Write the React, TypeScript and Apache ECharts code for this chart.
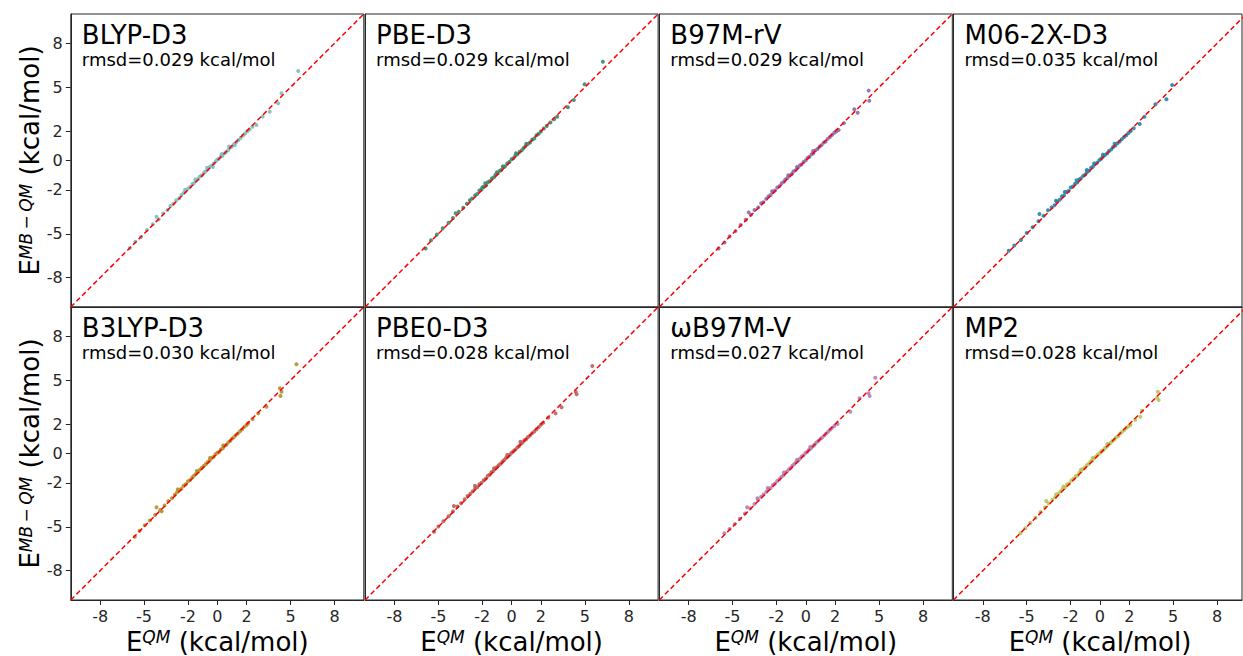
import React, { useEffect, useRef } from 'react';
import * as echarts from 'echarts';

const methods = ['BLYP-D3', 'PBE-D3', 'B97M-rV', 'M06-2X-D3', 'B3LYP-D3', 'PBE0-D3', 'ωB97M-V', 'MP2'];
const rmsdValues = ['0.029', '0.029', '0.029', '0.035', '0.030', '0.028', '0.027', '0.028'];
const pointColors = ['#7dbdbf', '#3a8a6c', '#8a6cae', '#2185ad', '#b3902f', '#b5625c', '#b07fb5', '#b8c45a'];
const tickValues = [-8, -5, -2, 0, 2, 5, 8];

const blypD3: number[][] = [
  [-5.97, -5.97], [-5.6, -5.55], [-5.2, -5.22], [-4.8, -4.75], [-4.15, -3.84], [-4.4, -4.35], [-4.0, -4.02], [-3.7, -3.62],
  [-3.4, -3.38], [-3.2, -3.1], [-3.0, -2.95], [-2.8, -2.72], [-2.6, -2.58], [-2.45, -2.35], [-2.3, -2.22], [-2.15, -2.1],
  [-2.0, -1.92], [-1.85, -1.8], [-1.7, -1.6], [-1.6, -1.55], [-1.45, -1.38], [-1.3, -1.25], [-1.2, -1.1], [-1.05, -1.0],
  [-0.9, -0.82], [-0.8, -0.75], [-0.65, -0.6], [-0.5, -0.42], [-0.4, -0.38], [-0.25, -0.2], [-0.1, -0.05], [0.0, 0.06],
  [0.1, 0.12], [0.25, 0.28], [0.35, 0.33], [0.5, 0.5], [0.6, 0.58], [0.75, 0.72], [0.9, 0.88], [1.0, 0.95],
  [1.15, 1.12], [1.3, 1.25], [1.45, 1.4], [1.6, 1.55], [1.75, 1.7], [1.9, 1.84], [2.05, 2.0], [2.2, 2.12],
  [2.4, 2.3], [2.67, 2.42], [3.1, 3.0], [3.58, 3.33], [4.15, 3.9], [4.38, 4.59], [5.52, 6.11],
  [-1.5, -1.3], [-0.7, -0.5], [0.3, 0.45], [-2.2, -2.0], [1.2, 1.05], [0.8, 0.95], [-0.3, -0.45],
];
const pbeD3: number[][] = [
  [-5.87, -6.0], [-5.5, -5.45], [-5.1, -5.05], [-4.7, -4.62], [-4.3, -4.25], [-3.82, -3.6], [-4.0, -3.92], [-3.6, -3.5],
  [-3.3, -3.22], [-3.05, -2.95], [-2.85, -2.72], [-2.7, -2.6], [-2.5, -2.38], [-2.35, -2.28], [-2.2, -2.05], [-2.05, -1.98],
  [-1.9, -1.78], [-1.75, -1.7], [-1.62, -1.48], [-1.5, -1.42], [-1.35, -1.22], [-1.2, -1.15], [-1.1, -0.98], [-0.95, -0.88],
  [-0.8, -0.7], [-0.7, -0.65], [-0.55, -0.45], [-0.45, -0.4], [-0.3, -0.2], [-0.15, -0.1], [0.0, 0.08], [0.12, 0.15],
  [0.25, 0.32], [0.4, 0.42], [0.55, 0.6], [0.7, 0.7], [0.82, 0.85], [0.95, 0.98], [1.1, 1.12], [1.25, 1.22],
  [1.4, 1.42], [1.55, 1.5], [1.7, 1.72], [1.85, 1.82], [2.0, 1.98], [2.2, 2.18], [2.4, 2.36], [2.65, 2.6],
  [2.9, 2.82], [3.11, 2.99], [3.84, 3.63], [4.25, 4.13], [4.98, 5.2], [6.23, 6.74],
  [-1.0, -0.8], [-2.0, -1.85], [0.3, 0.5], [-0.6, -0.4], [1.0, 1.15], [-1.8, -1.55],
];
const b97mrV: number[][] = [
  [-5.95, -6.0], [-5.55, -5.6], [-5.2, -5.18], [-4.8, -4.82], [-4.45, -4.4], [-3.9, -3.54], [-4.1, -4.05], [-3.75, -3.7],
  [-3.5, -3.38], [-3.25, -3.2], [-3.05, -2.92], [-2.9, -2.85], [-2.7, -2.62], [-2.55, -2.45], [-2.4, -2.35], [-2.25, -2.15],
  [-2.1, -2.05], [-1.95, -1.85], [-1.8, -1.75], [-1.65, -1.55], [-1.5, -1.45], [-1.4, -1.3], [-1.25, -1.2], [-1.1, -1.02],
  [-0.95, -0.92], [-0.85, -0.75], [-0.7, -0.66], [-0.55, -0.5], [-0.42, -0.35], [-0.3, -0.28], [-0.15, -0.1], [0.0, 0.02],
  [0.12, 0.18], [0.25, 0.25], [0.4, 0.42], [0.52, 0.5], [0.65, 0.68], [0.8, 0.78], [0.95, 0.95], [1.08, 1.05],
  [1.22, 1.22], [1.35, 1.3], [1.5, 1.48], [1.65, 1.6], [1.8, 1.75], [1.95, 1.9], [2.1, 2.0], [2.24, 2.08],
  [2.6, 2.55], [3.31, 3.5], [3.54, 3.26], [4.29, 4.77], [4.33, 4.08],
  [-1.2, -1.0], [-2.3, -2.1], [0.5, 0.65], [-0.6, -0.45],
];
const m062xD3: number[][] = [
  [-6.23, -6.16], [-5.85, -5.8], [-5.4, -5.42], [-5.0, -4.95], [-4.6, -4.55], [-4.13, -3.65], [-4.2, -4.15], [-3.85, -3.78],
  [-3.55, -3.4], [-3.3, -3.2], [-3.1, -3.05], [-2.95, -2.8], [-2.75, -2.68], [-2.6, -2.45], [-2.45, -2.38], [-2.3, -2.15],
  [-2.15, -2.08], [-2.0, -1.85], [-1.85, -1.78], [-1.7, -1.58], [-1.55, -1.5], [-1.42, -1.3], [-1.3, -1.22], [-1.15, -1.05],
  [-1.0, -0.95], [-0.88, -0.78], [-0.75, -0.7], [-0.6, -0.5], [-0.48, -0.42], [-0.35, -0.25], [-0.2, -0.15], [-0.05, 0.02],
  [0.08, 0.12], [0.2, 0.26], [0.35, 0.38], [0.5, 0.5], [0.62, 0.65], [0.78, 0.76], [0.9, 0.92], [1.05, 1.02],
  [1.2, 1.18], [1.35, 1.3], [1.5, 1.46], [1.65, 1.6], [1.8, 1.72], [1.95, 1.88], [2.1, 2.02], [2.31, 2.2],
  [2.72, 2.49], [3.04, 2.99], [3.79, 3.84], [4.54, 4.18], [4.93, 5.15],
  [-1.6, -1.35], [-2.4, -2.15], [-0.9, -0.65], [0.2, 0.4], [-3.0, -2.75], [1.0, 1.15], [-0.4, -0.2],
];
const b3lypD3: number[][] = [
  [-5.63, -5.68], [-5.3, -5.28], [-4.95, -4.9], [-4.6, -4.58], [-4.15, -3.67], [-4.25, -4.2], [-3.9, -3.85], [-3.6, -3.55],
  [-3.35, -3.25], [-3.1, -3.05], [-2.9, -2.82], [-2.75, -2.65], [-2.6, -2.5], [-2.45, -2.4], [-2.3, -2.2], [-2.15, -2.1],
  [-2.0, -1.9], [-1.85, -1.8], [-1.7, -1.62], [-1.58, -1.5], [-1.45, -1.38], [-1.3, -1.25], [-1.18, -1.1], [-1.05, -0.98],
  [-0.92, -0.85], [-0.78, -0.72], [-0.65, -0.58], [-0.52, -0.48], [-0.4, -0.32], [-0.25, -0.22], [-0.12, -0.05], [0.0, 0.05],
  [0.12, 0.1], [0.25, 0.28], [0.38, 0.36], [0.5, 0.52], [0.62, 0.6], [0.75, 0.76], [0.88, 0.85], [1.0, 1.0],
  [1.12, 1.1], [1.25, 1.25], [1.4, 1.36], [1.55, 1.52], [1.7, 1.65], [1.85, 1.82], [2.0, 1.95], [2.1, 2.06],
  [2.4, 2.35], [2.79, 2.74], [3.36, 3.19], [4.27, 4.45], [4.38, 4.22], [4.31, 3.92], [5.4, 6.09],
  [-2.7, -2.45], [-1.4, -1.2], [-0.5, -0.3], [0.4, 0.55], [-3.8, -3.95],
];
const pbe0D3: number[][] = [
  [-5.3, -5.34], [-5.0, -4.98], [-4.65, -4.62], [-4.3, -4.28], [-3.94, -3.58], [-4.0, -3.95], [-3.7, -3.62], [-3.45, -3.4],
  [-3.2, -3.12], [-3.0, -2.9], [-2.82, -2.75], [-2.65, -2.58], [-2.5, -2.38], [-2.35, -2.3], [-2.2, -2.1], [-2.05, -2.0],
  [-1.9, -1.82], [-1.75, -1.7], [-1.62, -1.52], [-1.5, -1.45], [-1.38, -1.28], [-1.25, -1.2], [-1.12, -1.05], [-1.0, -0.92],
  [-0.88, -0.8], [-0.75, -0.7], [-0.62, -0.55], [-0.5, -0.45], [-0.38, -0.3], [-0.25, -0.2], [-0.12, -0.08], [0.0, 0.05],
  [0.12, 0.15], [0.25, 0.25], [0.38, 0.4], [0.5, 0.5], [0.62, 0.65], [0.75, 0.75], [0.88, 0.9], [1.0, 0.98],
  [1.12, 1.12], [1.25, 1.22], [1.4, 1.38], [1.55, 1.5], [1.7, 1.66], [1.85, 1.8], [2.0, 1.96], [2.16, 2.1],
  [2.5, 2.45], [3.0, 2.74], [3.41, 3.15], [4.37, 4.22], [4.44, 4.04], [5.51, 5.97],
  [-2.5, -2.2], [-1.2, -1.0], [-0.3, -0.1], [0.6, 0.8],
];
const wb97mV: number[][] = [
  [-5.56, -5.45], [-5.2, -5.15], [-4.85, -4.82], [-4.5, -4.45], [-4.01, -3.67], [-4.15, -4.1], [-3.8, -3.75], [-3.5, -3.45],
  [-3.25, -3.18], [-3.05, -2.95], [-2.88, -2.8], [-2.7, -2.62], [-2.55, -2.45], [-2.4, -2.35], [-2.25, -2.15], [-2.1, -2.05],
  [-1.95, -1.88], [-1.8, -1.75], [-1.66, -1.58], [-1.52, -1.48], [-1.4, -1.32], [-1.28, -1.22], [-1.15, -1.08], [-1.02, -0.98],
  [-0.9, -0.82], [-0.78, -0.72], [-0.65, -0.58], [-0.52, -0.48], [-0.4, -0.35], [-0.28, -0.2], [-0.15, -0.12], [-0.02, 0.04],
  [0.1, 0.12], [0.22, 0.26], [0.35, 0.35], [0.48, 0.5], [0.6, 0.6], [0.72, 0.75], [0.85, 0.85], [0.98, 0.98],
  [1.1, 1.08], [1.25, 1.22], [1.38, 1.35], [1.52, 1.48], [1.66, 1.62], [1.8, 1.75], [1.95, 1.88], [2.17, 2.01],
  [3.04, 2.85], [3.67, 3.77], [4.29, 4.11], [4.36, 3.92], [4.74, 5.17],
  [-2.6, -2.35], [-1.5, -1.3], [-0.6, -0.42], [0.3, 0.45], [-3.3, -3.05],
];
const mp2: number[][] = [
  [-5.43, -5.45], [-5.1, -5.1], [-4.75, -4.72], [-4.4, -4.38], [-3.67, -3.24], [-4.05, -4.0], [-3.75, -3.68], [-3.5, -3.4],
  [-3.25, -3.15], [-3.05, -2.98], [-2.85, -2.75], [-2.7, -2.6], [-2.55, -2.42], [-2.4, -2.32], [-2.25, -2.12], [-2.1, -2.05],
  [-1.95, -1.85], [-1.8, -1.72], [-1.65, -1.55], [-1.52, -1.48], [-1.4, -1.3], [-1.28, -1.2], [-1.15, -1.05], [-1.02, -0.95],
  [-0.9, -0.8], [-0.78, -0.72], [-0.65, -0.55], [-0.52, -0.48], [-0.4, -0.32], [-0.28, -0.22], [-0.15, -0.08], [-0.02, 0.02],
  [0.1, 0.15], [0.22, 0.22], [0.35, 0.38], [0.48, 0.48], [0.6, 0.62], [0.72, 0.72], [0.85, 0.86], [0.98, 0.96],
  [1.1, 1.1], [1.25, 1.2], [1.38, 1.36], [1.52, 1.48], [1.66, 1.6], [1.8, 1.74], [1.95, 1.86], [2.08, 1.95],
  [2.4, 2.3], [2.76, 2.5], [2.88, 2.92], [3.9, 3.8], [3.95, 4.22], [4.01, 3.65],
  [-2.5, -2.25], [-1.3, -1.1], [-0.5, -0.3], [0.5, 0.65], [-3.0, -2.8],
];
const panelData = [blypD3, pbeD3, b97mrV, m062xD3, b3lypD3, pbe0D3, wb97mV, mp2];
const diagonal: number[][] = [[-10, -10], [10, 10]];

const FONT = 'DejaVu Sans';
const AXIS_COLOR = '#262626';

export default function App() {
  const ref = useRef<HTMLDivElement>(null);
  useEffect(() => {
    const chart = echarts.init(ref.current!, null, { renderer: 'svg' });
    const colLeft = [70.8, 365.1, 659.3, 953.5];
    const colWidth = [293, 293, 293, 288.5];
    const colMax = [10, 10, 10, 9.7];
    const rowTop = [14, 307];
    const size = 293;
    const grids: any[] = [];
    const xAxes: any[] = [];
    const yAxes: any[] = [];
    const series: any[] = [];
    const graphics: any[] = [];
    for (let i = 0; i < 8; i++) {
      const r = Math.floor(i / 4);
      const c = i % 4;
      grids.push({
        left: colLeft[c], top: rowTop[r], width: colWidth[c], height: size,
        show: true, borderColor: AXIS_COLOR, borderWidth: 1, backgroundColor: 'transparent',
      });
      xAxes.push({
        type: 'value', gridIndex: i, min: -10, max: colMax[c], position: 'bottom',
        axisLine: { show: true, onZero: false, lineStyle: { color: AXIS_COLOR, width: 1 } }, splitLine: { show: false },
        axisTick: { show: r === 1, inside: false, customValues: tickValues, length: 5, lineStyle: { color: AXIS_COLOR, width: 1 } },
        axisLabel: { show: r === 1, customValues: tickValues, margin: 8, fontSize: 16, color: AXIS_COLOR, fontFamily: FONT },
      });
      yAxes.push({
        type: 'value', gridIndex: i, min: -10, max: 10, position: 'left',
        axisLine: { show: true, onZero: false, lineStyle: { color: AXIS_COLOR, width: 1 } }, splitLine: { show: false },
        axisTick: { show: c === 0, inside: false, customValues: tickValues, length: 5, lineStyle: { color: AXIS_COLOR, width: 1 } },
        axisLabel: { show: c === 0, customValues: tickValues, margin: 8, fontSize: 16, color: AXIS_COLOR, fontFamily: FONT },
      });
      series.push({
        type: 'scatter', xAxisIndex: i, yAxisIndex: i, data: panelData[i],
        symbol: 'circle', symbolSize: 4, itemStyle: { color: pointColors[i], opacity: 0.9 }, silent: true, z: 2,
      });
      series.push({
        type: 'line', xAxisIndex: i, yAxisIndex: i, data: diagonal, symbol: 'none', clip: true, silent: true, z: 3,
        lineStyle: { color: '#ff0000', width: 1.5, type: [5, 3] },
      });
      graphics.push({
        type: 'text', x: colLeft[c] + 11, y: rowTop[r] + 20.5,
        style: { text: methods[i], font: `26px "${FONT}"`, fill: '#000', verticalAlign: 'middle', align: 'left' },
      });
      graphics.push({
        type: 'text', x: colLeft[c] + 11, y: rowTop[r] + 45,
        style: { text: `rmsd=${rmsdValues[i]} kcal/mol`, font: `18px "${FONT}"`, fill: '#000', verticalAlign: 'middle', align: 'left' },
      });
    }
    const richStyle = {
      e: { fontSize: 26, lineHeight: 26, fontFamily: FONT, fill: '#000' },
      s: { fontSize: 17, lineHeight: 10, verticalAlign: 'top', fontFamily: FONT, fontStyle: 'italic', fill: '#000' },
    };
    for (let r = 0; r < 2; r++) {
      graphics.push({
        type: 'text', x: 30, y: rowTop[r] + size / 2, rotation: Math.PI / 2,
        style: {
          text: '{e|E}{s|MB\u2009\u2212\u2009QM}{e| (kcal/mol)}', rich: richStyle,
          align: 'center', verticalAlign: 'middle', fontSize: 26, fontFamily: FONT, fill: '#000',
        },
      });
    }
    for (let c = 0; c < 4; c++) {
      graphics.push({
        type: 'text', x: colLeft[c] + 146.5, y: 641.5,
        style: {
          text: '{e|E}{s|QM}{e| (kcal/mol)}', rich: richStyle,
          align: 'center', verticalAlign: 'middle', fontSize: 26, fontFamily: FONT, fill: '#000',
        },
      });
    }
    chart.setOption({
      animation: false,
      backgroundColor: '#ffffff',
      grid: grids,
      xAxis: xAxes,
      yAxis: yAxes,
      series,
      graphic: graphics,
    });
    return () => chart.dispose();
  }, []);
  return <div ref={ref} style={{ position: 'fixed', left: 0, top: 0, width: 1243, height: 656 }} />;
}
